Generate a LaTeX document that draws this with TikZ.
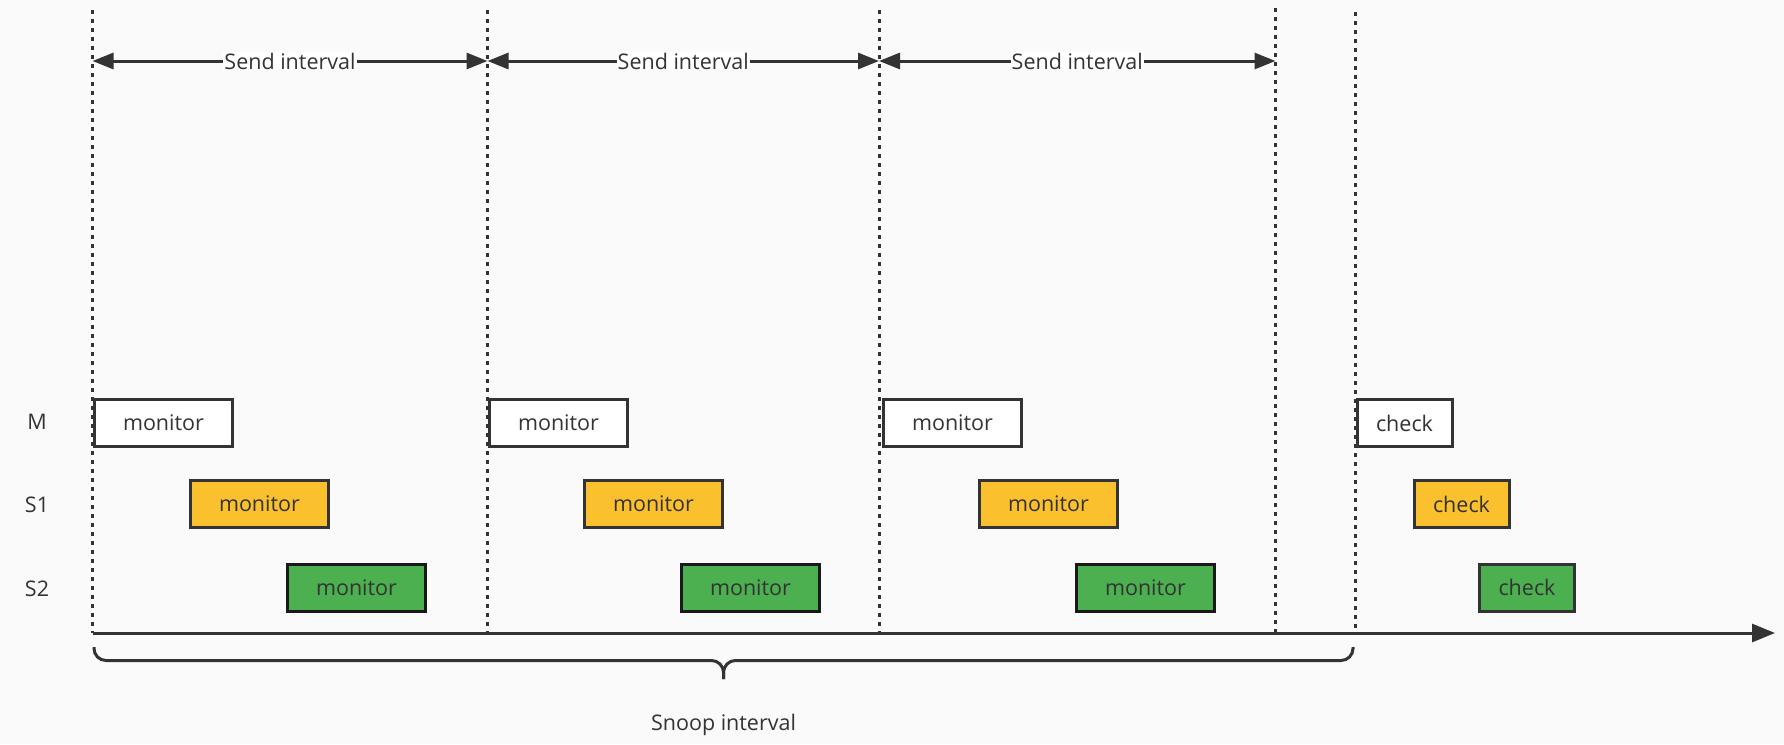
\documentclass[tikz,border=0pt]{standalone}
\usepackage{fontspec}
\setsansfont{Open Sans}
\usetikzlibrary{arrows.meta, calc}
\definecolor{cink}{HTML}{333333}
\definecolor{cpaper}{HTML}{FAFAFA}
\definecolor{cyellow}{HTML}{FBC02D}
\definecolor{cgreen}{HTML}{4CAF50}
\tikzset{
  every picture/.style={font=\sffamily\fontsize{21.5}{26}\selectfont, line width=3pt, x=1pt, y=-1pt},
  slot/.style={draw=cink, fill=#1, text=cink, minimum width=138pt, minimum height=47pt, inner sep=0pt},
  slot/.default=white,
  tick/.style={draw=cink, dash pattern=on 4pt off 5pt},
  span/.style={{Triangle[length=21pt, width=16pt]}-{Triangle[length=21pt, width=16pt]}, draw=cink},
  lbl/.style={text=cink},
}

\begin{document}
\begin{tikzpicture}[
    shortslot/.style={slot=#1, minimum width=95pt},
    axis/.style={-{Triangle[length=23pt, width=18pt]}, draw=cink},
    brace/.style={draw=cink, rounded corners=12pt},
    gap/.style={lbl, fill=white, inner sep=1pt},
  ]
  \path[use as bounding box, fill=cpaper] (0,0) rectangle (1784,744);

  % time marks
  \coordinate (t0) at (92.5,10);   \coordinate (b0) at (92.5,633);
  \coordinate (t1) at (487.5,10);  \coordinate (b1) at (487.5,633);
  \coordinate (t2) at (879,10);    \coordinate (b2) at (879,633);
  \coordinate (t3) at (1275.5,8);  \coordinate (b3) at (1275.5,632);
  \coordinate (t4) at (1355.5,12); \coordinate (b4) at (1355.5,633);
  \foreach \i in {0,...,4} \draw[tick] (t\i) -- (b\i);

  % send intervals
  \foreach \i/\x in {0/92.5, 1/487.5, 2/879, 3/1275.5} \coordinate (a\i) at (\x,61);
  \foreach \i/\j in {0/1, 1/2, 2/3} \draw[span] (a\i) -- node[gap] (send\i) {Send interval} (a\j);

  % rows
  \node[lbl] (rowm) at (37,422) {M};
  \node[lbl] (rows1) at (37,505) {S1};
  \node[lbl] (rows2) at (37,589) {S2};

  \foreach \g/\mx/\sx/\tx in {1/163.5/259.5/356.5, 2/558.5/653.5/750.5, 3/952.5/1048.5/1145.5} {
    \node[slot] (mon\g) at (\mx,423) {monitor};
    \node[slot=cyellow] (sa\g) at (\sx,504) {monitor};
    \node[slot=cgreen, draw=black!90] (sb\g) at (\tx,587.5) {monitor};
  }
  \node[shortslot] (chkm) at (1404.5,423) {check};
  \node[shortslot=cyellow] (chka) at (1461.5,504) {check};
  \node[shortslot=cgreen] (chkb) at (1527,587.5) {check};

  % time axis
  \coordinate (tend) at (1775,633);
  \draw[axis] (b0) -- (tend);

  % snoop interval
  \coordinate (brl) at (94,647);
  \coordinate (brr) at (1353,647);
  \coordinate (brtip) at (723.5,679);
  \draw[brace] (brl) |- ($(brtip)+(0,-18.5)$) -- (brtip);
  \draw[brace] (brr) |- ($(brtip)+(0,-18.5)$) -- (brtip);
  \node[lbl] (snoop) at (723.5,725) {Snoop interval};
\end{tikzpicture}
\end{document}
